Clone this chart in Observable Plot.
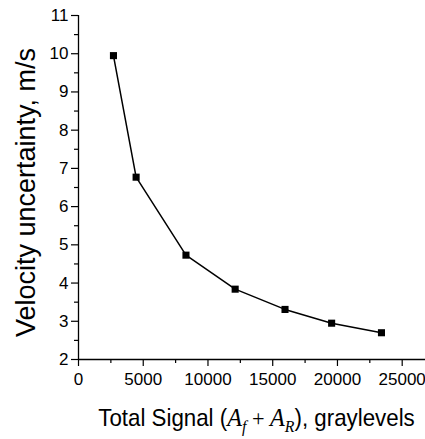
<!DOCTYPE html>
<html><head><meta charset="utf-8">
<script src="https://cdn.jsdelivr.net/npm/d3@7"></script>
<script src="https://cdn.jsdelivr.net/npm/@observablehq/plot@0.6"></script>
<style>html,body{margin:0;padding:0;background:#fff} svg{display:block}</style>
</head><body><div id="chart"></div>
<script>
const totalSignal = [2700, 4450, 8300, 12100, 15950, 19550, 23400];
const velocityUncertainty = [9.95, 6.77, 4.73, 3.84, 3.31, 2.95, 2.70];
const xMajorTicks = [0, 5000, 10000, 15000, 20000, 25000];
const xMinorTicks = [2500, 7500, 12500, 17500, 22500];
const yMajorTicks = [2, 3, 4, 5, 6, 7, 8, 9, 10, 11];
const yMinorTicks = [2.5, 3.5, 4.5, 5.5, 6.5, 7.5, 8.5, 9.5, 10.5];
const yLabel = "Velocity uncertainty, m/s";
const xLabelParts = ["Total Signal (", "A", "f", " + ", "A", "R", "), graylevels"];

const data = totalSignal.map((x, i) => ({x, y: velocityUncertainty[i]}));

const chart = Plot.plot({
  width: 425, height: 439,
  marginLeft: 78, marginRight: 0, marginTop: 15, marginBottom: 80,
  style: {fontFamily: "'Liberation Sans', Arial, sans-serif", fontSize: "17px", color: "black", background: "white", overflow: "visible"},
  x: {domain: [0, 26800]},
  y: {domain: [2, 11]},
  marks: [
    Plot.axisX({ticks: xMajorTicks, tickSize: 7, tickPadding: 6, fontSize: 17, tickFormat: d => String(d), label: null, stroke: "black", strokeWidth: 1.2}),
    Plot.axisX({ticks: xMinorTicks, tickSize: 4, tickFormat: () => "", label: null, stroke: "black", strokeWidth: 1.2}),
    Plot.axisY({ticks: yMajorTicks, tickSize: 7, tickPadding: 3, fontSize: 17, tickFormat: d => String(d), label: null, stroke: "black", strokeWidth: 1.2}),
    Plot.axisY({ticks: yMinorTicks, tickSize: 4, tickFormat: () => "", label: null, stroke: "black", strokeWidth: 1.2}),
    Plot.ruleY([2], {stroke: "black", strokeWidth: 1.3}),
    Plot.ruleX([0], {stroke: "black", strokeWidth: 1.3}),
    Plot.line(data, {x: "x", y: "y", stroke: "black", strokeWidth: 1.5}),
    Plot.dot(data, {x: "x", y: "y", symbol: "square", r: 4, fill: "black", stroke: "none"})
  ]
});

const svg = d3.select(chart);
svg.selectAll("g[aria-label$='tick label']")
  .attr("font-size", 17)
  .style("font-size", "17px")
  .attr("font-family", "'Liberation Sans', Arial, sans-serif")
  .attr("fill", "black");

svg.append("text")
  .attr("transform", "translate(35,192.5) rotate(-90)")
  .attr("text-anchor", "middle")
  .attr("font-family", "'Liberation Sans', Arial, sans-serif")
  .attr("font-size", 27)
  .attr("fill", "black")
  .text(yLabel);

const xl = svg.append("text")
  .attr("transform", "translate(256.5,425.5) scale(0.93,1)")
  .attr("text-anchor", "middle")
  .attr("font-family", "'Liberation Sans', Arial, sans-serif")
  .attr("font-size", 24)
  .attr("fill", "black");
const serif = "'Liberation Serif', 'Times New Roman', serif";
xl.append("tspan").text(xLabelParts[0]);
xl.append("tspan").attr("font-family", serif).attr("font-style", "italic").attr("font-size", 26).text(xLabelParts[1]);
xl.append("tspan").attr("font-family", serif).attr("font-style", "italic").attr("font-size", 17).attr("dy", 6).text(xLabelParts[2]);
xl.append("tspan").attr("font-family", serif).attr("dy", -6).text(xLabelParts[3]);
xl.append("tspan").attr("font-family", serif).attr("font-style", "italic").attr("font-size", 26).text(xLabelParts[4]);
xl.append("tspan").attr("font-family", serif).attr("font-style", "italic").attr("font-size", 17).attr("dy", 6).text(xLabelParts[5]);
xl.append("tspan").attr("dy", -6).text(xLabelParts[6]);

document.getElementById("chart").appendChild(chart);
</script>
</body></html>
